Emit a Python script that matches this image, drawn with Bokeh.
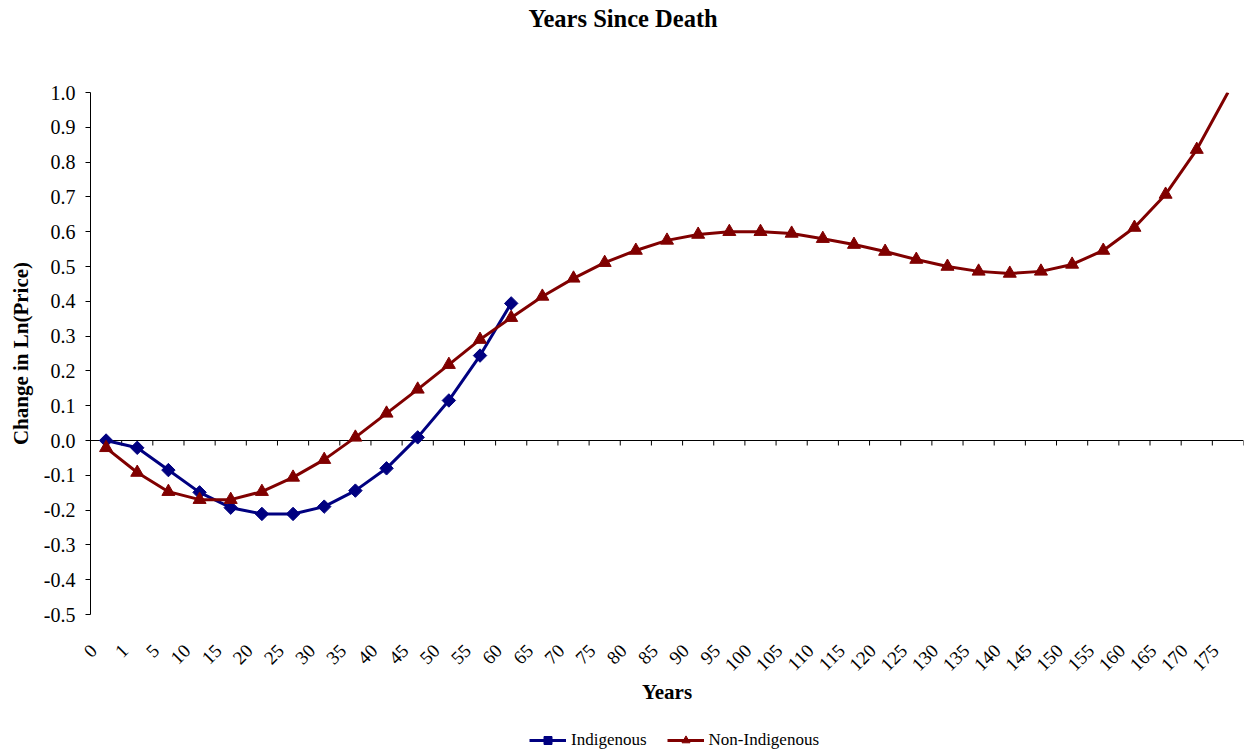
import numpy as np
from bokeh.plotting import figure
from bokeh.layouts import column
from bokeh.models import (Range1d, LinearAxis, FixedTicker, CustomJSTickFormatter,
                          NumeralTickFormatter, Legend, LegendItem, Title)
from bokeh.embed import file_html
from bokeh.resources import INLINE

# ---------------- data ----------------
x_labels = ["0", "1", "5", "10", "15", "20", "25", "30", "35", "40", "45", "50", "55", "60",
            "65", "70", "75", "80", "85", "90", "95", "100", "105", "110", "115", "120", "125",
            "130", "135", "140", "145", "150", "155", "160", "165", "170", "175"]

indigenous = [0.0, -0.021, -0.085, -0.149, -0.193, -0.211, -0.211, -0.19, -0.144, -0.08,
              0.009, 0.115, 0.244, 0.394]

non_indigenous = [-0.021, -0.092, -0.147, -0.17, -0.17, -0.147, -0.106, -0.055, 0.009, 0.078,
                  0.147, 0.218, 0.29, 0.353, 0.414, 0.466, 0.511, 0.546, 0.575, 0.592, 0.6,
                  0.6, 0.595, 0.58, 0.563, 0.543, 0.52, 0.5, 0.486, 0.48, 0.486, 0.506, 0.546,
                  0.612, 0.707, 0.836, 1.0]

y_ticks = [-0.5, -0.4, -0.3, -0.2, -0.1, 0.0, 0.1, 0.2, 0.3, 0.4, 0.5, 0.6, 0.7, 0.8, 0.9, 1.0]

series_names = ["Indigenous", "Non-Indigenous"]

# ---------------- layout ----------------
W, H = 1259, 756
LEG_H = 36                      # strip at the bottom holding the legend
MAIN_H = H - LEG_H
B_LEFT, B_RIGHT, B_TOP = 90, 16, 92
FRAME_H = 522
B_BOTTOM = MAIN_H - B_TOP - FRAME_H
Y0, Y1 = -0.5, 1.0
n = len(x_labels)

FONT = "Liberation Serif"
BLUE = "#000080"
RED = "#800000"

# category slot centres (category axis: each label occupies one unit)
cat_pos = {lab: i + 0.5 for i, lab in enumerate(x_labels)}

p = figure(width=W, height=MAIN_H,
           output_backend="svg", toolbar_location=None,
           x_range=Range1d(0, n), y_range=Range1d(Y0, Y1),
           x_axis_location=None, title=None,
           min_border_left=B_LEFT, min_border_right=B_RIGHT,
           min_border_top=B_TOP, min_border_bottom=B_BOTTOM)
p.outline_line_color = None
p.xgrid.visible = False
p.ygrid.visible = False
p.background_fill_color = "white"
p.border_fill_color = "white"

# title (spacer between frame and title first, then the title itself)
spacer = Title(text=" ", text_font_size="1px", standoff=58)
p.add_layout(spacer, "above")
title = Title(text="Years Since Death", align="left", offset=622 - B_LEFT - 94,
              vertical_align="bottom", standoff=0, text_font=FONT, text_font_style="bold",
              text_font_size="24.5px", text_color="black")
p.add_layout(title, "above")

# y axis
ya = p.yaxis[0]
ya.ticker = FixedTicker(ticks=y_ticks)
ya.formatter = NumeralTickFormatter(format="0.0")
ya.axis_line_color = "black"
ya.major_tick_line_color = "black"
ya.major_tick_out = 5
ya.major_tick_in = 0
ya.minor_tick_line_color = None
ya.major_label_standoff = 10
ya.major_label_text_font = FONT
ya.major_label_text_font_size = "20px"
ya.major_label_text_color = "black"
ya.axis_label = "Change in Ln(Price)"
ya.axis_label_text_font = FONT
ya.axis_label_text_font_style = "bold"
ya.axis_label_text_font_size = "21px"
ya.axis_label_text_color = "black"
ya.axis_label_standoff = 8

label_shift = 0.4
xa = LinearAxis(ticker=FixedTicker(ticks=[cat_pos[l] - label_shift for l in x_labels]),
                formatter=CustomJSTickFormatter(args=dict(labels=x_labels),
                                                code="return labels[index];"))
xa.axis_line_color = None
xa.major_tick_line_color = None
xa.major_tick_out = 0
xa.major_tick_in = 0
xa.minor_tick_line_color = None
xa.minor_tick_out = 0
xa.minor_tick_in = 0
xa.major_label_orientation = np.pi / 4
xa.major_label_standoff = 33
xa.major_label_text_font = FONT
xa.major_label_text_font_size = "19px"
xa.major_label_text_color = "black"
xa.axis_label = "Years"
xa.axis_label_text_font = FONT
xa.axis_label_text_font_style = "bold"
xa.axis_label_text_font_size = "21px"
xa.axis_label_text_color = "black"
xa.axis_label_standoff = 0
p.add_layout(xa, "below")

# zero line with category-boundary ticks
tick_len = 5 * (Y1 - Y0) / FRAME_H
p.segment(x0=[0], x1=[n], y0=[0], y1=[0], line_color="black", line_width=1)
bounds = list(range(n + 1))
p.segment(x0=bounds, x1=bounds, y0=[0] * len(bounds), y1=[-tick_len] * len(bounds),
          line_color="black", line_width=1)

# series
ind_x = [cat_pos[l] for l in x_labels[:len(indigenous)]]
p.line(x=ind_x, y=indigenous, line_color=BLUE, line_width=3)
p.scatter(x=ind_x, y=indigenous, marker="square", angle=np.pi / 4, size=9.5,
          fill_color=BLUE, line_color=BLUE)

non_x = [cat_pos[l] for l in x_labels]
p.line(x=non_x, y=non_indigenous, line_color=RED, line_width=3)
p.scatter(x=non_x[:-1], y=non_indigenous[:-1], marker="triangle", size=13,
          fill_color=RED, line_color=RED)

# ---------------- legend strip ----------------
# same series drawn in a strip whose x-range lies outside the data, so only the
# legend entries (with their line + marker samples) are visible
leg = figure(width=W, height=LEG_H, output_backend="svg", toolbar_location=None,
             x_range=Range1d(-2 * n, -n), y_range=Range1d(Y0, Y1),
             x_axis_location=None, y_axis_location=None, title=None,
             min_border=0, min_border_left=0, min_border_right=0,
             min_border_top=0, min_border_bottom=0)
leg.outline_line_color = None
leg.xgrid.visible = False
leg.ygrid.visible = False
leg.background_fill_color = "white"
leg.border_fill_color = "white"

kl = leg.line(x=ind_x, y=indigenous, line_color=BLUE, line_width=3)
ks = leg.scatter(x=ind_x, y=indigenous, marker="square", angle=np.pi / 4, size=9.5,
                 fill_color=BLUE, line_color=BLUE)
rl = leg.line(x=non_x, y=non_indigenous, line_color=RED, line_width=3)
rs = leg.scatter(x=non_x[:-1], y=non_indigenous[:-1], marker="triangle", size=13,
                 fill_color=RED, line_color=RED)

# the strip's frame is aligned with the main frame (starts at x = B_LEFT)
legend = Legend(items=[LegendItem(label=series_names[0], renderers=[kl, ks]),
                       LegendItem(label=series_names[1], renderers=[rl, rs])],
                orientation="horizontal", location=(529 - B_LEFT, LEG_H - (750 - MAIN_H)),
                margin=0, padding=0, spacing=20, glyph_width=37, glyph_height=20,
                label_standoff=5, label_height=20, border_line_color=None,
                background_fill_alpha=0, label_text_font=FONT, label_text_font_size="17px",
                label_text_color="black")
leg.add_layout(legend)

layout = column(p, leg, spacing=0)
open("out.html", "w").write(file_html(layout, INLINE))
